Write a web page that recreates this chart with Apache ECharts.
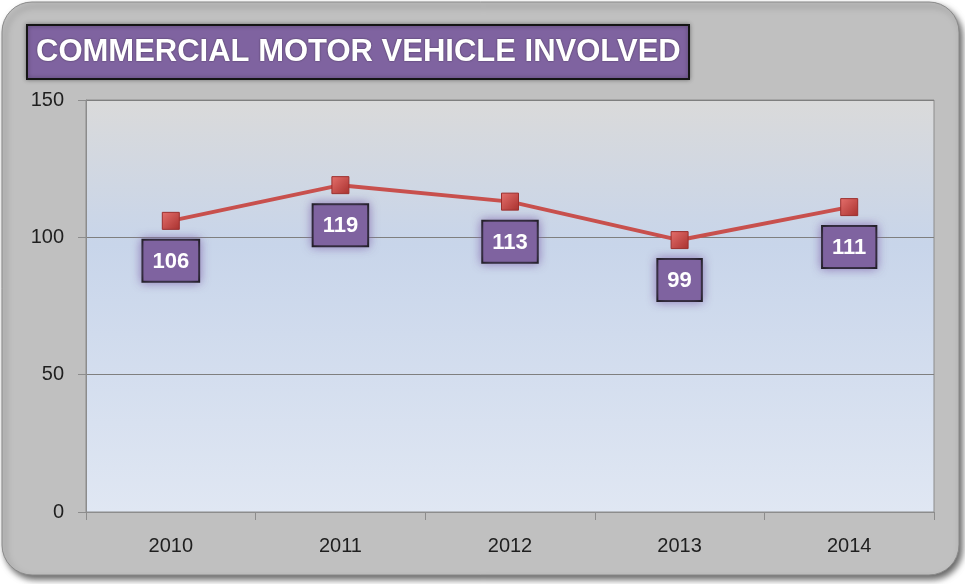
<!DOCTYPE html>
<html>
<head>
<meta charset="utf-8">
<script src="https://cdn.jsdelivr.net/npm/echarts@6/dist/echarts.min.js"></script>
<style>
  html, body { margin: 0; padding: 0; background: #ffffff; }
  #myChart { width: 965px; height: 584px; }
</style>
</head>
<body>
<div id="myChart"></div>
<script>
// 数据
var years = ["2010", "2011", "2012", "2013", "2014"];
var involved = [106, 119, 113, 99, 111];
var yTicks = [0, 50, 100, 150];

var myChart = echarts.init(document.getElementById("myChart"));

myChart.setOption({
  backgroundColor: "#ffffff",
  animation: false,
  title: {
    text: "COMMERCIAL MOTOR VEHICLE INVOLVED",
    left: 27,
    top: 25,
    padding: [12, 9, 11, 9],
    backgroundColor: "#7f63a0",
    borderColor: "#151515",
    borderWidth: 2,
    shadowColor: "rgba(0,0,0,0.35)",
    shadowBlur: 4,
    textStyle: {
      color: "#ffffff",
      fontFamily: "Liberation Sans",
      fontWeight: "bold",
      fontSize: 31,
      textShadowColor: "rgba(0,0,0,0.5)",
      textShadowBlur: 2
    }
  },
  graphic: [
    {
      type: "rect",
      z: -10,
      shape: { x: 2, y: 2, width: 957, height: 573, r: 30 },
      style: {
        fill: "#c0c0c0",
        stroke: "#8a8a8a",
        lineWidth: 1,
        shadowColor: "rgba(0,0,0,0.6)",
        shadowBlur: 6,
        shadowOffsetX: 3,
        shadowOffsetY: 4
      }
    }
  ],
  grid: {
    left: 86,
    right: 31,
    top: 100,
    bottom: 72,
    show: true,
    borderColor: "#8c8c8c",
    borderWidth: 1,
    backgroundColor: {
      type: "linear", x: 0, y: 0, x2: 0, y2: 1,
      colorStops: [
        { offset: 0, color: "#dadada" },
        { offset: 0.35, color: "#c8d5ea" },
        { offset: 1, color: "#e0e7f3" }
      ]
    }
  },
  xAxis: {
    type: "category",
    data: years,
    boundaryGap: true,
    axisLine: { lineStyle: { color: "#8c8c8c", width: 1 } },
    axisTick: { show: true, length: 8, lineStyle: { color: "#8c8c8c" } },
    axisLabel: {
      color: "#1f1f1f",
      fontSize: 20,
      fontFamily: "Liberation Sans",
      margin: 24
    },
    splitLine: { show: false }
  },
  yAxis: {
    type: "value",
    min: yTicks[0],
    max: yTicks[yTicks.length - 1],
    interval: 50,
    axisLine: { show: true, lineStyle: { color: "#8c8c8c", width: 1 } },
    axisTick: { show: true, length: 8, lineStyle: { color: "#8c8c8c" } },
    axisLabel: {
      color: "#1f1f1f",
      fontSize: 20,
      fontFamily: "Liberation Sans",
      margin: 22
    },
    splitLine: { show: true, lineStyle: { color: "#7f7f7f", width: 1 } }
  },
  series: [
    {
      name: "Commercial Motor Vehicle Involved",
      type: "line",
      data: involved,
      symbol: "rect",
      symbolSize: 17,
      lineStyle: { color: "#c8504d", width: 4 },
      itemStyle: {
        color: {
          type: "linear", x: 0, y: 0, x2: 1, y2: 1,
          colorStops: [
            { offset: 0, color: "#e5706c" },
            { offset: 1, color: "#a8302e" }
          ]
        },
        borderColor: "#9c2f2d",
        borderWidth: 1
      },
      label: {
        show: true,
        position: "bottom",
        distance: 11,
        color: "#ffffff",
        fontSize: 22,
        fontFamily: "Liberation Sans",
        fontWeight: "bold",
        backgroundColor: "#7f63a0",
        borderColor: "#151515",
        borderWidth: 2,
        padding: [10, 9, 8, 9],
        shadowColor: "rgba(128,100,170,0.7)",
        shadowBlur: 10
      }
    }
  ]
});

window.addEventListener("resize", function () {
  myChart.resize();
});
</script>
</body>
</html>
